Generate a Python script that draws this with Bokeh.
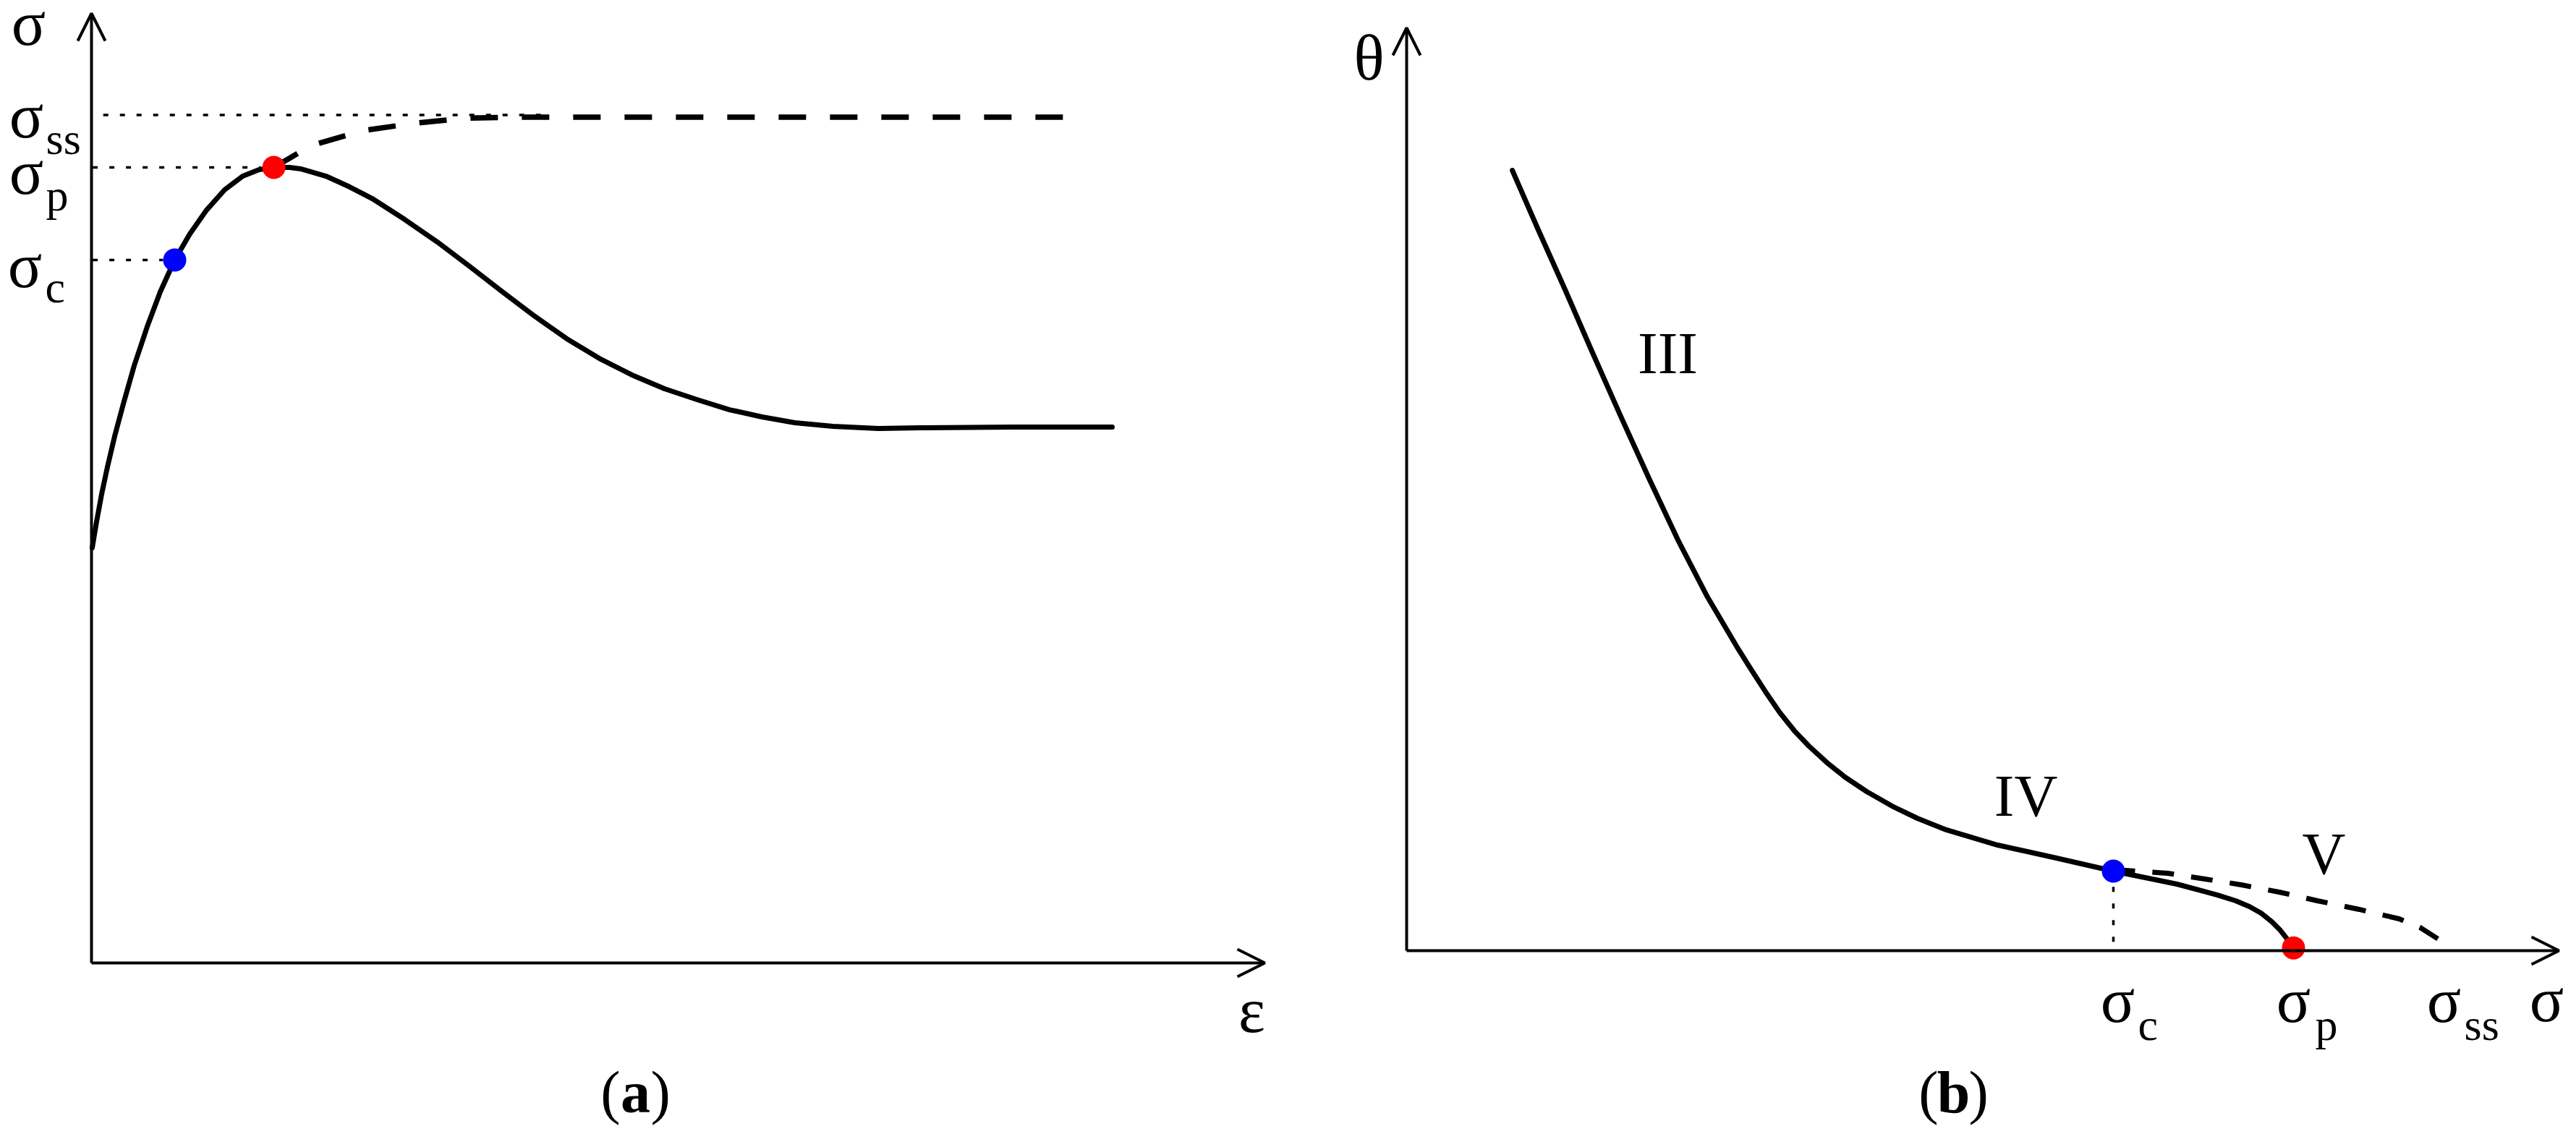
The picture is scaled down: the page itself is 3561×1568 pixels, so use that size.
from bokeh.plotting import figure
from bokeh.layouts import row
from bokeh.models import Range1d, Arrow, OpenHead
from bokeh.embed import file_html
from bokeh.resources import INLINE
from bokeh.core.properties import value

SERIF = "Liberation Serif"

# ---------------- Panel (a): stress-strain curve ----------------
a_strain = [0.006, 0.043, 0.086, 0.136, 0.197, 0.271, 0.364, 0.475, 0.586, 0.709,
            0.838, 0.980, 1.134, 1.289, 1.430, 1.554, 1.689, 1.782, 1.998, 2.201,
            2.392, 2.670, 2.947, 3.224, 3.502, 3.779, 4.051, 4.328, 4.606, 4.883,
            5.160, 5.438, 5.715, 5.993, 6.319, 6.708, 7.096, 7.855, 8.699]
a_stress = [4.372, 4.646, 4.935, 5.225, 5.545, 5.887, 6.291, 6.702, 7.068, 7.403,
            7.677, 7.928, 8.142, 8.286, 8.355, 8.378, 8.378, 8.363, 8.286, 8.172,
            8.050, 7.829, 7.593, 7.334, 7.068, 6.809, 6.573, 6.367, 6.192, 6.047,
            5.933, 5.826, 5.750, 5.689, 5.651, 5.628, 5.636, 5.644, 5.644]
# hardening-only (no recrystallization) branch
a_hard_strain = [1.554, 1.868, 2.312, 2.750, 3.169, 3.613, 4.051, 8.305]
a_hard_stress = [8.378, 8.606, 8.766, 8.842, 8.895, 8.907, 8.907, 8.907]

a_eps_c, a_sig_c = 0.709, 7.403
a_eps_p, a_sig_p = 1.554, 8.378
a_sig_ss = 8.93
a_ref_levels = [a_sig_ss, a_sig_p, a_sig_c]
a_ref_start = [0.10, 0.01, 0.01]
a_ref_end = [3.88, 1.44, 0.61]

a_sym_text = ["σ", "σ", "σ", "σ", "ε"]
a_sym_x = [-0.536, -0.555, -0.555, -0.567, 9.889]
a_sym_y = [9.665, 8.690, 8.096, 7.113, -0.731]
a_sub_text = ["ss", "p", "c"]
a_sub_x = [-0.388, -0.388, -0.395]
a_sub_y = [8.515, 7.921, 6.954]
a_cap_x, a_cap_y = 4.636, -1.577

# ---------------- Panel (b): hardening rate vs stress ----------------
b_stress = [0.917, 1.136, 1.375, 1.607, 1.858, 2.109, 2.360, 2.611, 2.863, 2.988,
            3.114, 3.239, 3.365, 3.490, 3.647, 3.804, 3.992, 4.212, 4.432, 4.683,
            5.129, 5.612, 6.133, 6.378, 6.685, 7.037, 7.194, 7.313, 7.414, 7.508,
            7.583, 7.646, 7.696]
b_theta = [8.456, 7.829, 7.163, 6.497, 5.791, 5.102, 4.436, 3.832, 3.299, 3.049,
           2.806, 2.578, 2.382, 2.218, 2.038, 1.881, 1.724, 1.567, 1.434, 1.309,
           1.144, 1.011, 0.862, 0.799, 0.721, 0.603, 0.541, 0.478, 0.408, 0.313,
           0.219, 0.118, 0.030]
b_hard_stress = [6.133, 6.240, 6.604, 6.930, 7.244, 7.571, 7.903, 8.267, 8.613, 8.795, 9.021]
b_hard_theta = [0.862, 0.870, 0.839, 0.776, 0.713, 0.635, 0.541, 0.447, 0.345, 0.251, 0.071]

b_sig_c, b_theta_c = 6.133, 0.862
b_sig_p, b_theta_p = 7.696, 0.030

b_sym_text = ["σ", "σ", "σ", "σ", "θ"]
b_sym_x = [6.171, 7.696, 9.002, 9.893, -0.326]
b_sym_y = [-0.776, -0.776, -0.776, -0.768, 9.436]
b_sub_text = ["c", "p", "ss"]
b_sub_x = [6.346, 7.885, 9.178]
b_sub_y = [-0.964, -0.964, -0.964]
b_stage_text = ["III", "IV", "V"]
b_stage_x = [2.266, 5.374, 7.960]
b_stage_y = [6.254, 1.458, 0.831]
b_cap_x, b_cap_y = 4.746, -1.755

SYM_FS, SUB_FS, STAGE_FS, CAP_FS = 88, 62, 83, 82


def fs(n):
    return "%dpx" % n


def shift(n):
    return -round(0.34 * n)


def make_fig(w, h, xr, yr):
    p = figure(width=w, height=h, x_range=Range1d(*xr), y_range=Range1d(*yr),
               output_backend="svg", toolbar_location=None, min_border=0,
               x_axis_type=None, y_axis_type=None)
    p.outline_line_color = None
    p.background_fill_color = "white"
    p.border_fill_color = "white"
    return p


def axes(p):
    for xe, ye in [(10, 0), (0, 10)]:
        p.add_layout(Arrow(end=OpenHead(size=38, line_width=4, line_color="black"),
                           x_start=0, y_start=0, x_end=xe, y_end=ye,
                           line_width=4, line_color="black"))


def labels(p, xs, ys, texts, size, align, style="normal", dx=0):
    p.text(x=xs, y=ys, text=texts, text_font=value(SERIF), text_font_size=fs(size),
           text_font_style=style, text_align=align, text_baseline="alphabetic",
           text_color="black", x_offset=dx, y_offset=shift(size))


def caption(p, x, y, letter):
    labels(p, [x], [y], [letter], CAP_FS, "center", "bold")
    labels(p, [x], [y], ["("], CAP_FS, "right", dx=-21)
    labels(p, [x], [y], [")"], CAP_FS, "left", dx=21)


# ---- figure (a)
pa = make_fig(1780, 1568, (-0.7768, 10.1973), (-1.8050, 10.1371))
axes(pa)
for lev, xs, xe in zip(a_ref_levels, a_ref_start, a_ref_end):
    pa.line(x=[xs, xe], y=[lev, lev], line_color="black", line_width=3.5, line_dash="7 16")
pa.line(x=a_hard_strain, y=a_hard_stress, line_color="black", line_width=7.5,
        line_dash="38 33")
pa.line(x=a_strain, y=a_stress, line_color="black", line_width=7, line_join="round",
        line_cap="round")
pa.scatter(x=[a_eps_c], y=[a_sig_c], size=32, fill_color="#0000ff", line_color=None)
pa.scatter(x=[a_eps_p], y=[a_sig_p], size=32, fill_color="#ff0000", line_color=None)
labels(pa, a_sym_x, a_sym_y, a_sym_text, SYM_FS, "center")
labels(pa, a_sub_x, a_sub_y, a_sub_text, SUB_FS, "left")
caption(pa, a_cap_x, a_cap_y, "a")

# ---- figure (b)
pb = make_fig(1781, 1568, (-1.0295, 10.1507), (-1.9906, 10.2978))
axes(pb)
pb.line(x=[b_sig_c, b_sig_c], y=[b_theta_c - 0.17, 0.05], line_color="black",
        line_width=3.5, line_dash="7 16")
pb.line(x=b_hard_stress, y=b_hard_theta, line_color="black", line_width=7,
        line_dash="30 24")
pb.line(x=b_stress, y=b_theta, line_color="black", line_width=7, line_join="round",
        line_cap="round")
pb.scatter(x=[b_sig_c], y=[b_theta_c], size=32, fill_color="#0000ff", line_color=None)
pb.scatter(x=[b_sig_p], y=[b_theta_p], size=32, fill_color="#ff0000", line_color=None)
labels(pb, b_sym_x, b_sym_y, b_sym_text, SYM_FS, "center")
labels(pb, b_sub_x, b_sub_y, b_sub_text, SUB_FS, "left")
labels(pb, b_stage_x, b_stage_y, b_stage_text, STAGE_FS, "center")
caption(pb, b_cap_x, b_cap_y, "b")

layout = row(pa, pb)
open("out.html", "w").write(file_html(layout, INLINE))
